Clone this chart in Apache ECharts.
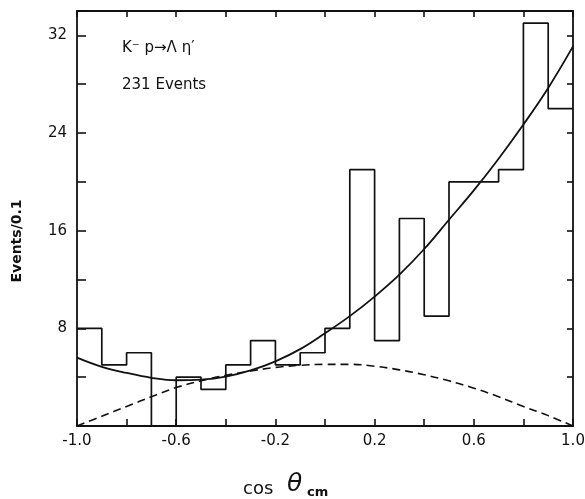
<!DOCTYPE html>
<html>
<head>
<meta charset="utf-8">
<script src="https://cdn.jsdelivr.net/npm/echarts@6/dist/echarts.min.js"></script>
<style>
  html, body { margin: 0; padding: 0; background: #fff; }
  #main { width: 585px; height: 499px; }
</style>
</head>
<body>
<div id="main"></div>
<script>
// histogram bins (left edges) and counts, 231 events total
const binStarts = [-1.0, -0.9, -0.8, -0.7, -0.6, -0.5, -0.4, -0.3, -0.2, -0.1,
                   0.0, 0.1, 0.2, 0.3, 0.4, 0.5, 0.6, 0.7, 0.8, 0.9];
const counts = [8, 5, 6, 0, 4, 3, 5, 7, 5, 6, 8, 21, 7, 17, 9, 20, 20, 21, 33, 26];

// fitted curves
const curveX = [-1.0, -0.9, -0.8, -0.7, -0.6, -0.5, -0.4, -0.3, -0.2, -0.1, 0.0,
                0.1, 0.2, 0.3, 0.4, 0.5, 0.6, 0.7, 0.8, 0.9, 1.0];
const fitTotal = [5.6, 4.85, 4.35, 3.95, 3.75, 3.8, 4.05, 4.55, 5.3, 6.3, 7.6,
                  9.0, 10.6, 12.4, 14.5, 16.9, 19.3, 21.9, 24.7, 27.7, 31.1];
const fitDashed = [0, 0.8, 1.6, 2.4, 3.15, 3.7, 4.15, 4.5, 4.8, 4.97, 5.05,
                   5.05, 4.9, 4.6, 4.2, 3.7, 3.1, 2.4, 1.6, 0.85, 0];

const xTickLabels = ['-1.0', '-0.6', '-0.2', '0.2', '0.6', '1.0'];
const yTickLabels = [8, 16, 24, 32];

const ink = '#111';
const font = 'DejaVu Sans';

const histData = binStarts.map((x, i) => [x, counts[i]]);
histData.push([1.0, counts[counts.length - 1]]);

function frameAxis(position, min, max, interval, tickLen) {
  return {
    type: 'value',
    position: position,
    min: min,
    max: max,
    interval: interval,
    splitLine: { show: false },
    axisLine: { show: true, onZero: false, lineStyle: { color: ink, width: 1.8 } },
    axisTick: { show: true, inside: true, length: tickLen, lineStyle: { color: ink, width: 1.6 } },
    axisLabel: { show: false }
  };
}

let xBottom = frameAxis('bottom', -1, 1, 0.2, 7);
xBottom.axisLabel = {
  show: true, margin: 8, color: ink, fontFamily: font, fontSize: 15,
  formatter: function (v) {
    const s = v.toFixed(1);
    return xTickLabels.includes(s) ? s : '';
  }
};

let yLeft = frameAxis('left', 0, 34, 4, 9);
yLeft.axisLabel = {
  show: true, margin: 10, color: ink, fontFamily: font, fontSize: 15,
  formatter: function (v) {
    return yTickLabels.includes(v) ? String(v) : '';
  }
};

let option = {
  animation: false,
  backgroundColor: '#fff',
  grid: { left: 77, right: 12, top: 11, bottom: 73, containLabel: false, outerBoundsMode: 'none' },
  xAxis: [xBottom, frameAxis('top', -1, 1, 0.2, 6)],
  yAxis: [yLeft, frameAxis('right', 0, 34, 4, 6)],
  graphic: [
    { type: 'text', left: 122, top: 41, style: { text: 'K⁻ p→Λ η′', fill: ink, font: '15px "DejaVu Sans"' } },
    { type: 'text', left: 122, top: 78, style: { text: '231 Events', fill: ink, font: '15px "DejaVu Sans"' } },
    { type: 'text', x: 17, y: 241, rotation: Math.PI / 2,
      style: { text: 'Events/0.1', fill: ink, font: 'bold 14px "DejaVu Sans"', align: 'center', verticalAlign: 'middle' } },
    { type: 'text', x: 243, y: 489, style: { text: 'cos', fill: ink, font: '18px "DejaVu Sans"', verticalAlign: 'middle' } },
    { type: 'text', x: 287, y: 484, style: { text: 'θ', fill: ink, font: 'italic 25px "DejaVu Sans"', verticalAlign: 'middle' } },
    { type: 'text', x: 307, y: 493, style: { text: 'cm', fill: ink, font: 'bold 13px "DejaVu Sans"', verticalAlign: 'middle' } }
  ],
  series: [
    {
      name: 'events',
      type: 'line',
      step: 'end',
      data: histData,
      showSymbol: false,
      lineStyle: { color: ink, width: 1.7 }
    },
    {
      name: 'fit',
      type: 'line',
      smooth: 0.4,
      data: curveX.map((x, i) => [x, fitTotal[i]]),
      showSymbol: false,
      lineStyle: { color: ink, width: 1.8 }
    },
    {
      name: 'dashed',
      type: 'line',
      smooth: 0.4,
      data: curveX.map((x, i) => [x, fitDashed[i]]),
      showSymbol: false,
      lineStyle: { color: ink, width: 1.6, type: [8, 5] }
    }
  ]
};

let myChart = echarts.init(document.getElementById('main'), null, { renderer: 'canvas' });
myChart.setOption(option);
</script>
</body>
</html>
